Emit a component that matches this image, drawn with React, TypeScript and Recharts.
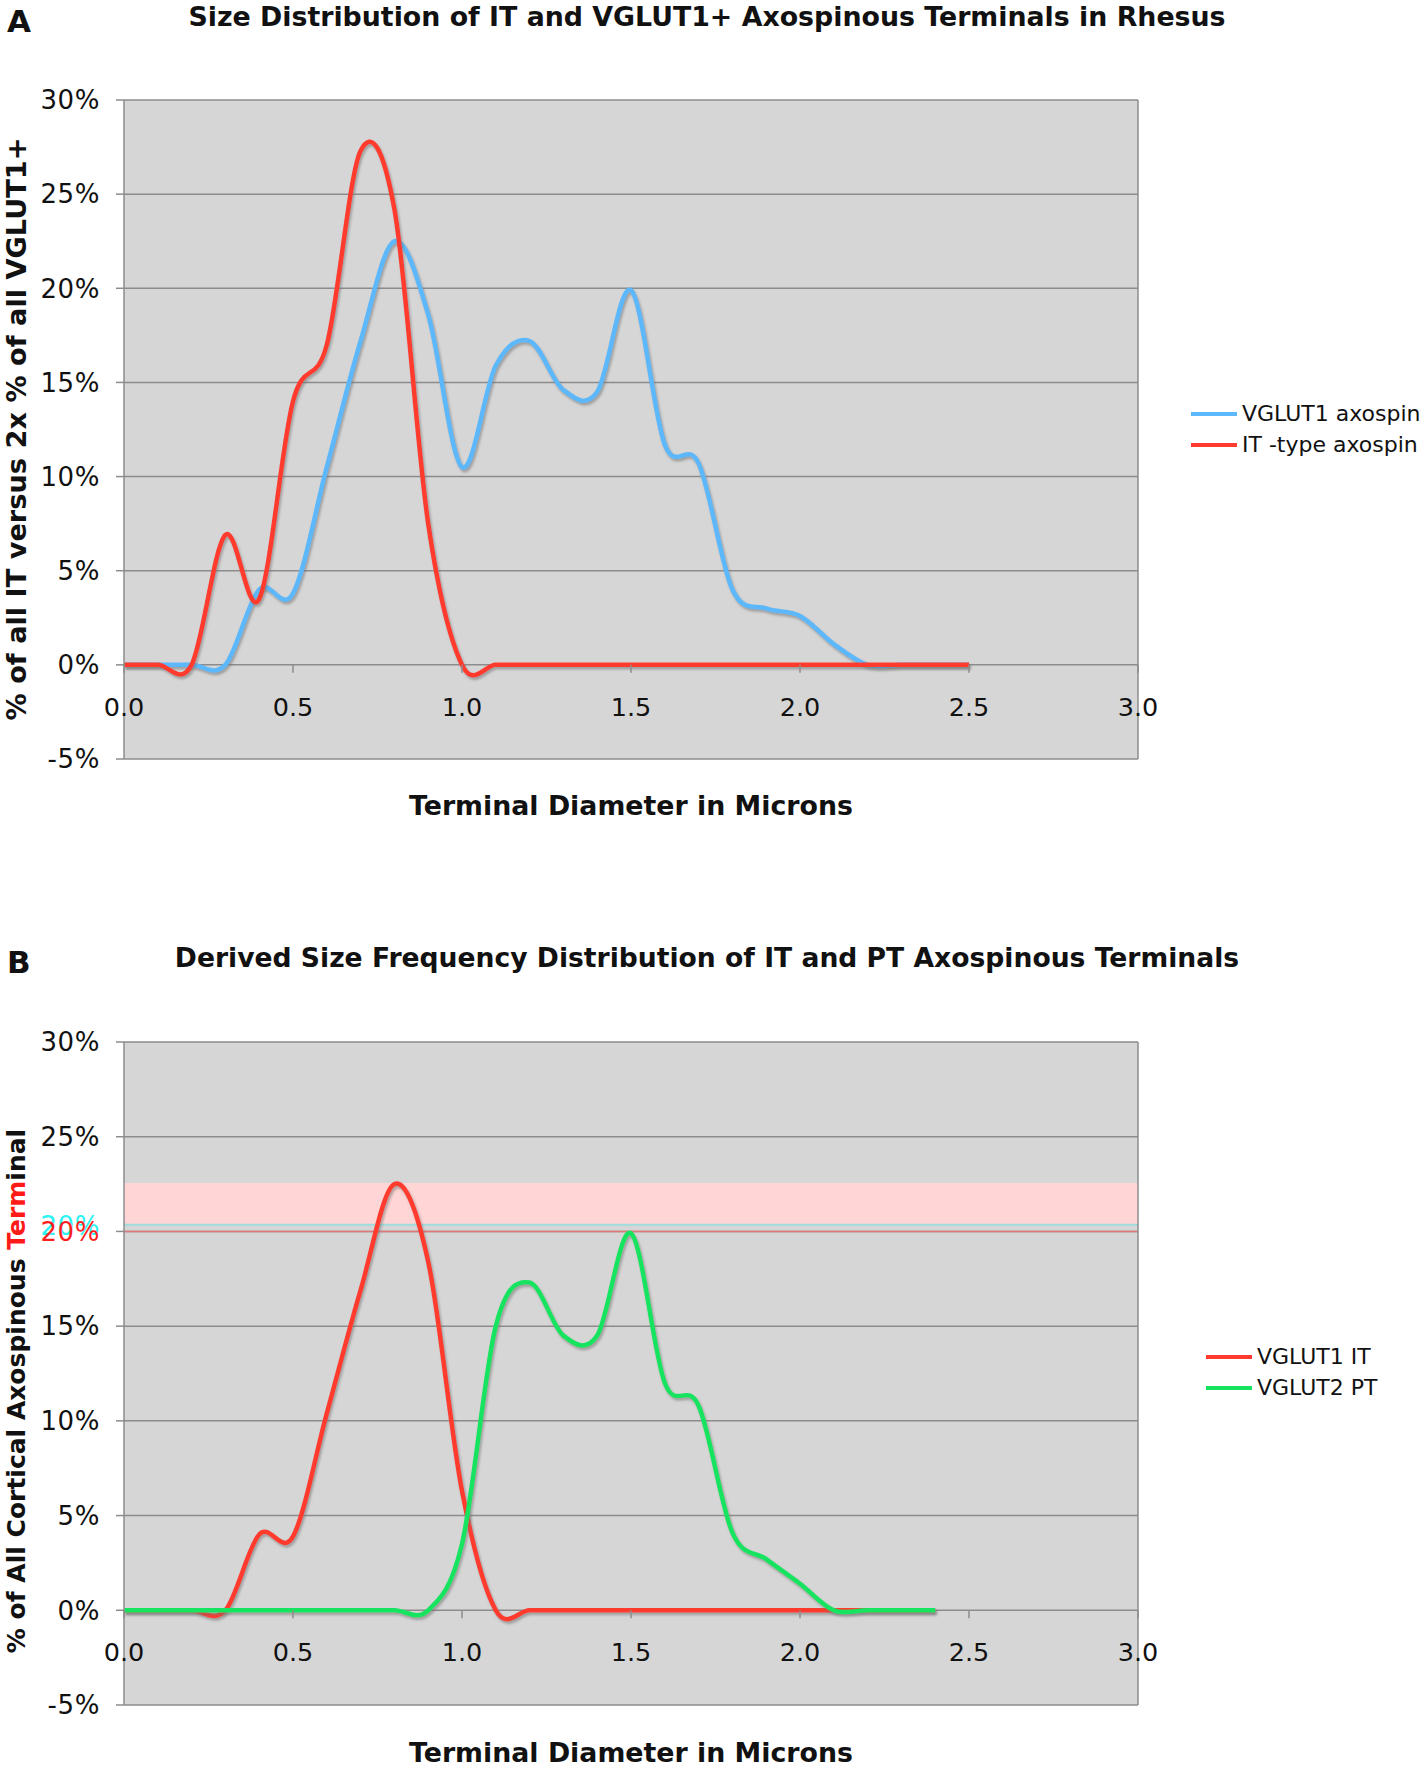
import React from "react";
import {
  LineChart,
  Line,
  XAxis,
  YAxis,
  CartesianGrid,
  Legend,
  ReferenceLine,
  ReferenceArea,
} from "recharts";

// terminal diameter (microns), one value every 0.1
const DIAMETERS = [0, 0.1, 0.2, 0.3, 0.4, 0.5, 0.6, 0.7, 0.8, 0.9, 1.0, 1.1, 1.2, 1.3, 1.4, 1.5, 1.6, 1.7, 1.8, 1.9, 2.0, 2.1, 2.2, 2.3, 2.4, 2.5];

// panel A (% of terminals)
const VGLUT1_AXOSPIN = [0, 0, 0, 0, 4.0, 3.8, 10.5, 17.2, 22.5, 18.6, 10.5, 15.9, 17.2, 14.6, 14.5, 19.9, 11.7, 10.7, 4.0, 3.0, 2.6, 1.1, 0, 0, 0, 0];
const IT_AXOSPIN = [0, 0, 0, 6.9, 3.5, 14.0, 17.0, 27.3, 24.2, 7.5, 0, 0, 0, 0, 0, 0, 0, 0, 0, 0, 0, 0, 0, 0, 0, 0];

// panel B (% of all cortical axospinous terminals), 0.0 - 2.4
const VGLUT1_IT = [0, 0, 0, 0, 4.0, 3.9, 10.4, 16.9, 22.5, 18.4, 6.3, 0, 0, 0, 0, 0, 0, 0, 0, 0, 0, 0, 0, 0, 0];
const VGLUT2_PT = [0, 0, 0, 0, 0, 0, 0, 0, 0, 0, 3.5, 15.0, 17.3, 14.5, 14.5, 19.9, 12.0, 10.8, 4.1, 2.7, 1.4, 0, 0, 0, 0];

const X_TICKS = [0, 0.5, 1, 1.5, 2, 2.5, 3];
const Y_TICKS = [-5, 0, 5, 10, 15, 20, 25, 30];

const dataA = DIAMETERS.map((d, i) => ({ d, vglut1: VGLUT1_AXOSPIN[i], it: IT_AXOSPIN[i] }));
const dataB = VGLUT1_IT.map((v, i) => ({ d: DIAMETERS[i], it: v, pt: VGLUT2_PT[i] }));

const FONT = "'DejaVu Sans', Verdana, sans-serif";
const RED = "#ff3a2f";
const BLUE = "#5cb8fb";
const GREEN = "#16e35e";
const GRID = "#8c8c8c";
const PLOT_BG = "#d6d6d6";

// smooth curve through the points, like the spreadsheet's "smoothed line"
const excelCurve = (context: any) => {
  let pts: number[][] = [];
  return {
    areaStart() {},
    areaEnd() {},
    lineStart() {
      pts = [];
    },
    point(x: number, y: number) {
      pts.push([+x, +y]);
    },
    lineEnd() {
      if (!pts.length) return;
      context.moveTo(pts[0][0], pts[0][1]);
      for (let i = 0; i < pts.length - 1; i++) {
        const p0 = pts[Math.max(0, i - 1)];
        const p1 = pts[i];
        const p2 = pts[i + 1];
        const p3 = pts[Math.min(pts.length - 1, i + 2)];
        context.bezierCurveTo(
          p1[0] + (p2[0] - p0[0]) / 6,
          p1[1] + (p2[1] - p0[1]) / 6,
          p2[0] - (p3[0] - p1[0]) / 6,
          p2[1] - (p3[1] - p1[1]) / 6,
          p2[0],
          p2[1]
        );
      }
    },
  };
};

// x labels sit just under the 0% line, inside the plot
const makeXTick = (zeroOffset: number) => (props: any) => {
  const { x, y, payload } = props;
  const zy = y - zeroOffset;
  return (
    <g>
      <line x1={x} x2={x} y1={zy} y2={zy + 8} stroke={GRID} strokeWidth={1.5} />
      <text x={x} y={zy + 51} textAnchor="middle" fontSize={25.5} fontFamily={FONT} fill="#111">
        {payload.value.toFixed(1)}
      </text>
    </g>
  );
};

const makeYTick = (marked: boolean) => (props: any) => {
  const { x, y, payload } = props;
  const odd = marked && payload.value === 20;
  return (
    <g>
      {odd && (
        <text x={x} y={y - 6} dy="0.355em" textAnchor="end" fontSize={26} letterSpacing={0.6} fontFamily={FONT} fill="#2cf2f2">
          {payload.value}%
        </text>
      )}
      <text x={x} y={y} dy="0.355em" textAnchor="end" fontSize={26} letterSpacing={0.6} fontFamily={FONT} fill={odd ? "#ff1e1e" : "#111"}>
        {payload.value}%
      </text>
    </g>
  );
};

const makeLegend = (order: string[]) => (props: any) => {
  const items = [...(props.payload || [])].sort((a: any, b: any) => order.indexOf(a.value) - order.indexOf(b.value));
  return (
    <div>
      {items.map((entry: any) => (
        <div key={entry.value} style={{ display: "flex", alignItems: "center", height: 31 }}>
          <span style={{ display: "inline-block", width: 46, height: 4, background: entry.color, marginRight: 5 }} />
          <span style={{ fontSize: 22, fontFamily: FONT, color: "#111", whiteSpace: "nowrap", lineHeight: "31px" }}>
            {entry.value}
          </span>
        </div>
      ))}
    </div>
  );
};

const shadow = (id: string) => (
  <defs>
    <filter id={id} x="-5%" y="-5%" width="110%" height="120%">
      <feDropShadow dx={1.5} dy={2.5} stdDeviation={1.2} floodColor="#6f6f6f" floodOpacity={0.55} />
    </filter>
  </defs>
);

export default function App() {
  // panel A plot: top 100, bottom 759 ; panel B plot: top 1042, bottom 1705
  const hA = 860;
  const hB = 910;
  const zeroA = (659 * 5) / 35;
  const zeroB = (663 * 5) / 35;

  return (
    <div style={{ position: "relative", width: 1426, height: 1770, background: "#fff", overflow: "hidden" }}>
      <style>{"body{margin:0}"}</style>

      <svg width={1426} height={1770} style={{ position: "absolute", left: 0, top: 0 }} fontFamily={FONT}>
        <text x={7} y={32} fontSize={31} fontWeight="bold" fill="#111">A</text>
        <text x={707} y={26} fontSize={26.8} fontWeight="bold" textAnchor="middle" fill="#111">
          Size Distribution of IT and VGLUT1+ Axospinous Terminals in Rhesus
        </text>
        <text x={26} y={429} transform="rotate(-90 26 429)" fontSize={27.2} fontWeight="bold" textAnchor="middle" fill="#111">
          % of all IT versus 2x % of all VGLUT1+
        </text>
        <text x={631} y={815} fontSize={26.8} fontWeight="bold" textAnchor="middle" fill="#111">
          Terminal Diameter in Microns
        </text>

        <text x={7} y={973} fontSize={31} fontWeight="bold" fill="#111">B</text>
        <text x={707} y={967} fontSize={26.6} fontWeight="bold" textAnchor="middle" fill="#111">
          Derived Size Frequency Distribution of IT and PT Axospinous Terminals
        </text>
        <text x={25} y={1391} transform="rotate(-90 25 1391)" fontSize={25} fontWeight="bold" textAnchor="middle" fill="#111">
          % of All Cortical Axospinous <tspan fill="#ff1a1a">Term</tspan>inal
        </text>
        <text x={631} y={1762} fontSize={26.8} fontWeight="bold" textAnchor="middle" fill="#111">
          Terminal Diameter in Microns
        </text>
      </svg>

      <div style={{ position: "absolute", left: 0, top: 0 }}>
        <LineChart width={1426} height={hA} data={dataA} margin={{ top: 100, right: 288, bottom: 71, left: 0 }}>
          {shadow("shadowA")}
          <CartesianGrid vertical={false} stroke={GRID} strokeWidth={1.5} fill={PLOT_BG} fillOpacity={1} />
          <XAxis
            dataKey="d"
            type="number"
            domain={[0, 3]}
            ticks={X_TICKS}
            height={30}
            axisLine={false}
            tickLine={false}
            tickSize={0}
            tickMargin={0}
            tick={makeXTick(zeroA)}
          />
          <YAxis
            type="number"
            domain={[-5, 30]}
            ticks={Y_TICKS}
            width={124}
            tickSize={8}
            tickMargin={16}
            axisLine={{ stroke: GRID, strokeWidth: 1.5 }}
            tickLine={{ stroke: GRID, strokeWidth: 1.5 }}
            tick={makeYTick(false)}
          />
          <ReferenceLine x={3} stroke={GRID} strokeWidth={1.5} />
          <Line
            dataKey="vglut1"
            name="VGLUT1 axospin"
            type={excelCurve as any}
            stroke={BLUE}
            strokeWidth={4.5}
            dot={false}
            filter="url(#shadowA)"
            isAnimationActive={false}
          />
          <Line
            dataKey="it"
            name="IT -type axospin"
            type={excelCurve as any}
            stroke={RED}
            strokeWidth={4.5}
            dot={false}
            filter="url(#shadowA)"
            isAnimationActive={false}
          />
          <Legend
            layout="vertical"
            align="center"
            verticalAlign="middle"
            wrapperStyle={{ left: 1191, top: 398, width: 235 }}
            content={makeLegend(["VGLUT1 axospin", "IT -type axospin"])}
          />
        </LineChart>
      </div>

      <div style={{ position: "absolute", left: 0, top: hA }}>
        <LineChart width={1426} height={hB} data={dataB} margin={{ top: 182, right: 288, bottom: 35, left: 0 }}>
          {shadow("shadowB")}
          <CartesianGrid vertical={false} stroke={GRID} strokeWidth={1.5} fill={PLOT_BG} fillOpacity={1} />
          <XAxis
            dataKey="d"
            type="number"
            domain={[0, 3]}
            ticks={X_TICKS}
            height={30}
            axisLine={false}
            tickLine={false}
            tickSize={0}
            tickMargin={0}
            tick={makeXTick(zeroB)}
          />
          <YAxis
            type="number"
            domain={[-5, 30]}
            ticks={Y_TICKS}
            width={124}
            tickSize={8}
            tickMargin={16}
            axisLine={{ stroke: GRID, strokeWidth: 1.5 }}
            tickLine={{ stroke: GRID, strokeWidth: 1.5 }}
            tick={makeYTick(true)}
          />
          <ReferenceArea y1={20.35} y2={22.55} fill="#ffd5d5" fillOpacity={1} stroke="none" />
          <ReferenceLine y={20.35} stroke="#9fdcdc" strokeWidth={2} />
          <ReferenceLine y={20} stroke="#e07a7a" strokeWidth={1.5} />
          <ReferenceLine x={3} stroke={GRID} strokeWidth={1.5} />
          <Line
            dataKey="it"
            name="VGLUT1 IT"
            type={excelCurve as any}
            stroke={RED}
            strokeWidth={4.5}
            dot={false}
            filter="url(#shadowB)"
            isAnimationActive={false}
          />
          <Line
            dataKey="pt"
            name="VGLUT2 PT"
            type={excelCurve as any}
            stroke={GREEN}
            strokeWidth={4.5}
            dot={false}
            filter="url(#shadowB)"
            isAnimationActive={false}
          />
          <Legend
            layout="vertical"
            align="center"
            verticalAlign="middle"
            wrapperStyle={{ left: 1206, top: 481, width: 220 }}
            content={makeLegend(["VGLUT1 IT", "VGLUT2 PT"])}
          />
        </LineChart>
      </div>
    </div>
  );
}
